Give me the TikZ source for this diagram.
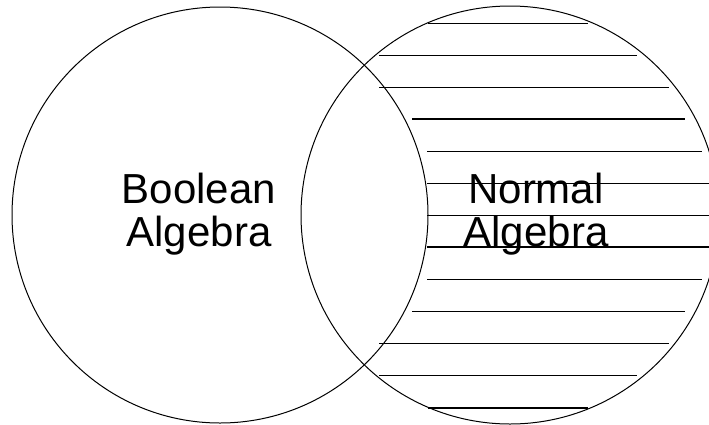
\documentclass[tikz,border=0pt]{standalone}
\usepackage{fontspec}
\setmainfont{Liberation Sans}
\begin{document}
\begin{tikzpicture}[x=1pt,y=-1pt,
  ring/.style={draw=black,line width=1pt},
  hatch/.style={draw=black,line width=1.3pt},
  lbl/.style={font=\fontsize{42}{43.4}\selectfont,align=center,inner sep=0pt,anchor=base}]
\useasboundingbox (0,0) rectangle (709,424);
\begin{scope}
\clip (0,0) rectangle (709,424);
\node[ring,circle,minimum size=416pt,inner sep=0pt] (L) at (220,215) {};
\node[ring,circle,minimum size=418pt,inner sep=0pt] (R) at (510,215) {};
\foreach \y/\a/\b in {23.3/428/588, 55.7/379/637, 87.7/379/669, 119/412/685,
  151.7/427/702, 183.3/427/712, 215.3/427/712, 247/427/712, 279.7/427/702,
  311.3/412/685, 343.7/379/669, 375.3/379/637, 408/428/588}
  \draw[hatch] (\a,\y) -- (\b,\y);
\end{scope}
\node[lbl] (bool) at (199,246.7) {Boolean\\Algebra};
\node[lbl] (norm) at (536,246.7) {Normal\\Algebra};
\end{tikzpicture}
\end{document}
